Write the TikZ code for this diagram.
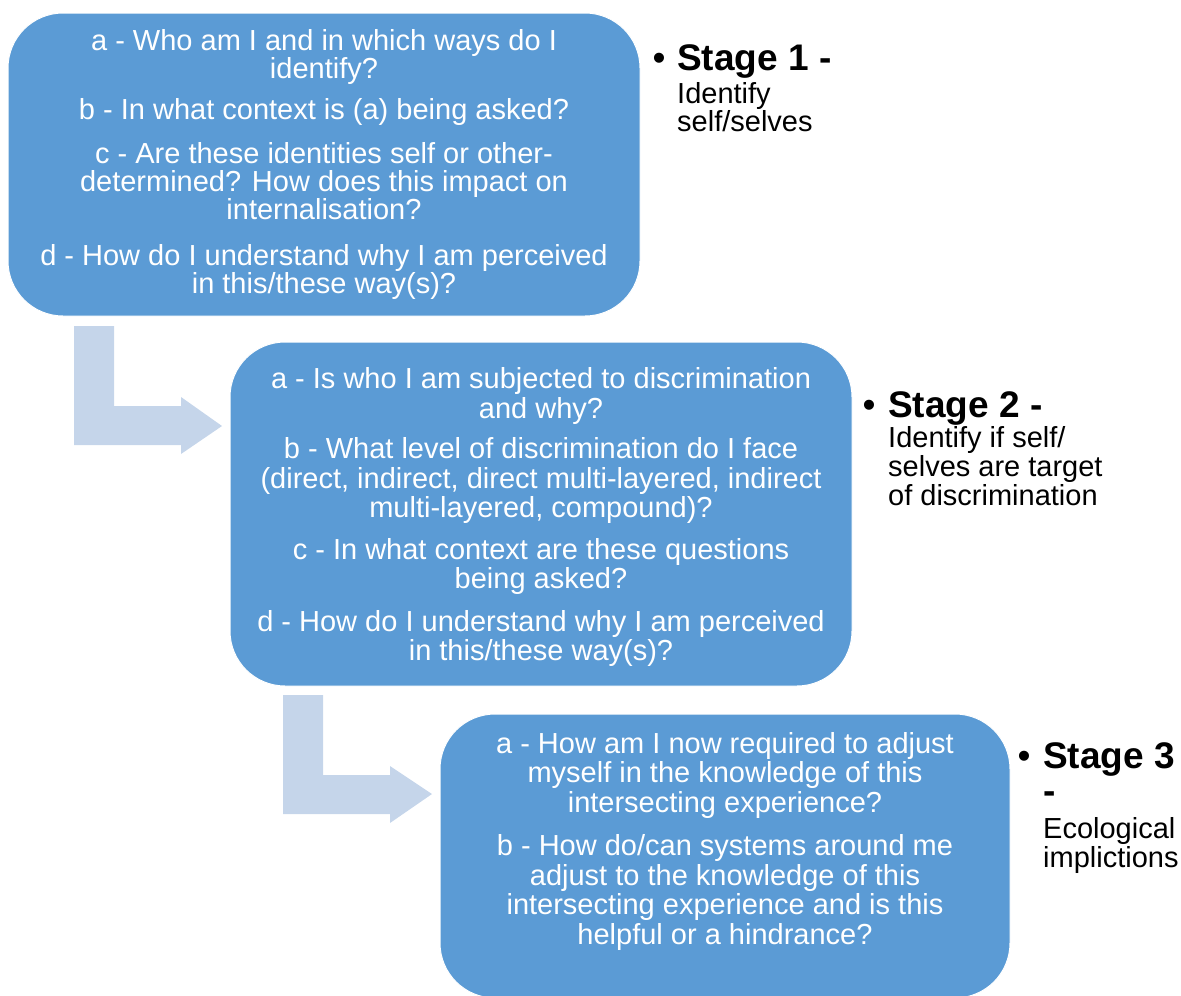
\documentclass[tikz,border=0pt]{standalone}
\usepackage{fontspec}
\setmainfont{Liberation Sans}
\definecolor{boxblue}{HTML}{5B9BD5}
\definecolor{arrowblue}{HTML}{C5D5EA}
\tikzset{
  qbox/.style={fill=boxblue, draw=white, line width=1pt, rounded corners=55pt,
    inner sep=0pt, outer sep=0pt},
  qtext/.style={text=white, align=center, inner sep=0pt,
    font=\fontsize{29}{29.5}\selectfont},
  bendarrow/.style={fill=arrowblue},
  stitle/.style={anchor=base west, inner sep=0pt, font=\fontsize{37}{37}\selectfont\bfseries},
  sbody/.style={anchor=base west, inner sep=0pt, font=\fontsize{29}{29}\selectfont},
  sbullet/.style={anchor=base, inner sep=0pt, font=\fontsize{37}{37}\selectfont},
}
\begin{document}
\begin{tikzpicture}[x=1pt,y=-1pt]
\useasboundingbox (0,0) rectangle (1181,996);

% bent arrows between the stages
\fill[bendarrow] (74,326) -- (114,326) -- (114,406) -- (181,406) -- (181,397)
  -- (222,426) -- (181,454) -- (181,445) -- (74,445) -- cycle;
\fill[bendarrow] (283,695) -- (323,695) -- (323,775) -- (390,775) -- (390,766)
  -- (432,794) -- (390,823) -- (390,814) -- (283,814) -- cycle;

% question boxes
\node[qbox, minimum width=632pt, minimum height=303pt] (b1) at (324,164.5) {};
\node[qbox, minimum width=622pt, minimum height=344pt] (b2) at (541,514) {};
\node[qbox, minimum width=570pt, minimum height=284pt] (b3) at (725,856) {};

\node[qtext, font=\fontsize{29}{28}\selectfont] (t1) at (b1.center) {%
a - Who am I and in which ways do I\\ identify?\\[13pt]
b - In what context is (a) being asked?\\[16pt]
c - Are these identities self or other-\\ determined? How does this impact on\\ internalisation?\\[18pt]
d - How do I understand why I am perceived\\ in this/these way(s)?};

\node[qtext] (t2) at ([yshift=-3pt]b2.center) {%
a - Is who I am subjected to discrimination\\ and why?\\[11pt]
b - What level of discrimination do I face\\ (direct, indirect, direct multi-layered, indirect\\ multi-layered, compound)?\\[12pt]
c - In what context are these questions\\ being asked?\\[13pt]
d - How do I understand why I am perceived\\ in this/these way(s)?};

\node[qtext, anchor=north] (t3) at (725,732) {%
a - How am I now required to adjust\\ myself in the knowledge of this\\ intersecting experience?\\[14pt]
b - How do/can systems around me\\ adjust to the knowledge of this\\ intersecting experience and is this\\ helpful or a hindrance?};

% stage labels
\node[sbullet] (u1) at (659,70) {•};
\node[stitle] (s1) at (677,70) {Stage 1 -};
\node[sbody] (s1a) at (677,103) {Identify};
\node[sbody] (s1b) at (677,131) {self/selves};

\node[sbullet] (u2) at (869,417) {•};
\node[stitle] (s2) at (888,417) {Stage 2 -};
\node[sbody] (s2a) at (888,447) {Identify if self/};
\node[sbody] (s2b) at (888,476) {selves are target};
\node[sbody] (s2c) at (888,505) {of discrimination};

% the title wraps, leaving its dash on a line of its own
\node[sbullet] (u3) at (1024,768) {•};
\node[stitle, align=left, font=\fontsize{37}{35}\selectfont\bfseries] (s3) at (1043,803) {Stage 3\\-};
\node[sbody] (s3a) at (1043,838) {Ecological};
\node[sbody] (s3b) at (1043,867) {implictions};
\end{tikzpicture}
\end{document}
